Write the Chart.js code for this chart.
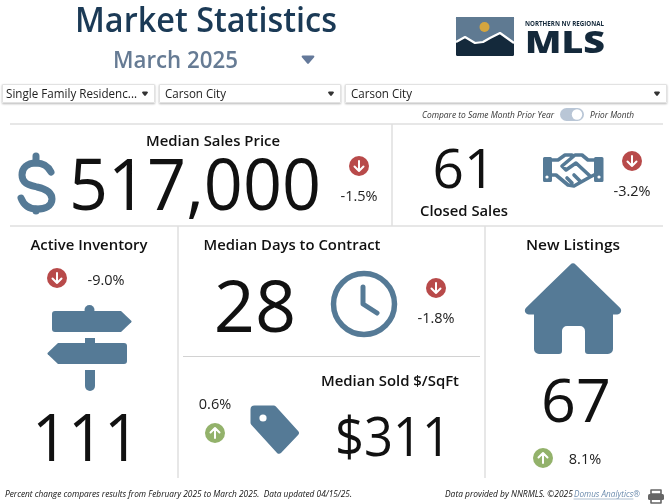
<!DOCTYPE html>
<html><head><meta charset="utf-8">
<style>html,body{margin:0;padding:0;background:#fff;overflow:hidden}canvas{display:block}</style>
<script src="https://cdn.jsdelivr.net/npm/chart.js@4/dist/chart.umd.js"></script>
</head><body><canvas id="c" width="670" height="504"></canvas>
<script>
// ---- data ----
const kpiNames = ["Median Sales Price","Closed Sales","Active Inventory","Median Days to Contract","Median Sold $/SqFt","New Listings"];
const kpiValues = ["517,000","61","111","28","$311","67"];
const kpiChanges = [-1.5,-3.2,-9.0,-1.8,0.6,8.1];
const filterLabels = ["Single Family Residenc...","Carson City","Carson City"];
const titleText = "Market Statistics";
const periodText = "March 2025";
const toggleLabels = ["Compare to Same Month Prior Year","Prior Month"];
const footerLeft = "Percent change compares results from February 2025 to March 2025.  Data updated 04/15/25.";
const footerRight = "Data provided by NNRMLS. ©2025 ";
const footerLink = "Domus Analytics®";

// ---- layout (tile order as in kpiNames) ----
const nameBox = [[213,146,134],[464,216,88],[89,250,117],[292,250,177],[390,386,138],[573,250,94]];
const valueBox = [[195,210,71,252],[464,188,55,0],[86,461,66,108],[255,332,72,0],[393,456,54,116],[576,422,61,0]];
const badgeBox = [[359,166],[632,161],[57,278],[436,288],[215,433],[543,458]];
const changeBox = [[359,201],[632,196],[106,285],[436,323],[215,409],[585,464]];
const filterBox = [[2,84,153,19,131],[159,84,182,19,61],[345,84,322,19,61]];

const steel = "#557a96", red = "#b84a4a", green = "#93b26b";

function label(ctx,s,x,y,size,o={}){
  ctx.save();
  ctx.font=`${o.style||"normal"} ${o.weight||400} ${size}px "Open Sans"`;
  ctx.fillStyle=o.color||"#111";
  ctx.textBaseline="alphabetic";
  const m=ctx.measureText(s).width;
  const k=o.w?o.w/m:1;
  ctx.translate(x,y); ctx.scale(k,1);
  ctx.textAlign=o.align||"center";
  ctx.fillText(s,0,0);
  ctx.restore();
}
function poly(ctx,pts,r){
  ctx.beginPath();
  const n=pts.length, a=pts[n-1], b=pts[0];
  ctx.moveTo((a[0]+b[0])/2,(a[1]+b[1])/2);
  for(let i=0;i<n;i++){const p=pts[i],q=pts[(i+1)%n];ctx.arcTo(p[0],p[1],(p[0]+q[0])/2,(p[1]+q[1])/2,Array.isArray(r)?r[i]:r);}
  ctx.closePath();
}
function rule(ctx,x1,y1,x2,y2,c,w){ctx.strokeStyle=c;ctx.lineWidth=w;ctx.beginPath();ctx.moveTo(x1,y1);ctx.lineTo(x2,y2);ctx.stroke();}
function tri(ctx,cx,cy,w,h,c){ctx.fillStyle=c;poly(ctx,[[cx-w/2,cy-h/2],[cx+w/2,cy-h/2],[cx,cy+h/2]],1);ctx.fill();}

function drawHeader(ctx){
  label(ctx,titleText,206,32,34,{weight:600,color:"#1b3a56",w:262});
  label(ctx,periodText,175.5,68,24,{weight:600,color:"#667b94",w:125});
  tri(ctx,308,60,15,9,"#64799a");
  // logo
  const wave=[[456,42],[465,37],[475,43],[483,42],[490,38],[500,33],[514,43]];
  ctx.fillStyle="#14293b";ctx.beginPath();ctx.roundRect(456,17,58,39,1.5);ctx.fill();
  ctx.fillStyle="#5f7a92";
  ctx.beginPath();ctx.moveTo(456,17);ctx.lineTo(514,17);ctx.lineTo(514,43);wave.slice().reverse().forEach(p=>ctx.lineTo(p[0],p[1]));ctx.closePath();ctx.fill();
  ctx.strokeStyle="#fff";ctx.lineWidth=2.2;ctx.lineJoin="round";ctx.beginPath();wave.forEach((p,i)=>i?ctx.lineTo(p[0],p[1]):ctx.moveTo(p[0],p[1]));ctx.stroke();
  ctx.fillStyle="#d4a53f";ctx.beginPath();ctx.arc(484.5,27,5,0,7);ctx.fill();
  label(ctx,"NORTHERN NV REGIONAL",525,26,6.5,{weight:700,color:"#14293b",align:"left",w:79});
  label(ctx,"MLS",525,52.5,30,{weight:800,color:"#14293b",align:"left",w:80});
}
function drawFilters(ctx){
  filterBox.forEach((b,i)=>{
    ctx.save();ctx.shadowColor="rgba(0,0,0,.28)";ctx.shadowBlur=2;ctx.shadowOffsetY=1;
    ctx.fillStyle="#fff";ctx.fillRect(b[0],b[1],b[2],b[3]);ctx.restore();
    ctx.strokeStyle="#e2e2e2";ctx.lineWidth=1;ctx.strokeRect(b[0]+.5,b[1]+.5,b[2]-1,b[3]-1);
    label(ctx,filterLabels[i],b[0]+(i?6:4),b[1]+14,12.5,{color:"#222",align:"left",w:b[4]});
    tri(ctx,b[0]+b[2]-10,b[1]+10,8,5,"#333");
  });
  label(ctx,toggleLabels[0],422,118,8.5,{style:"italic",color:"#333",align:"left",w:132});
  label(ctx,toggleLabels[1],590,118,8.5,{style:"italic",color:"#333",align:"left",w:44});
  ctx.fillStyle="#b9c6d6";ctx.beginPath();ctx.roundRect(560,108,24,13,6.5);ctx.fill();
  ctx.fillStyle="#fff";ctx.beginPath();ctx.arc(577,114.5,5.2,0,7);ctx.fill();
}
function drawRules(ctx){
  const c="#dfdfdf";
  rule(ctx,10,124,663,124,c,1.5);rule(ctx,10,226,663,226,c,1.5);
  rule(ctx,392,124,392,226,c,1.5);rule(ctx,178,226,178,478,c,1.5);rule(ctx,485,226,485,478,c,1.5);
  rule(ctx,183,356.5,480,356.5,"#d2d2d2",1);
}
function drawIcons(ctx){
  ctx.lineCap="round";ctx.lineJoin="round";
  // dollar
  ctx.strokeStyle=steel;ctx.lineWidth=7;ctx.beginPath();
  ctx.moveTo(51,172);ctx.bezierCurveTo(48,166,43,163,36,163);ctx.bezierCurveTo(27,163,22,168,22,175);
  ctx.bezierCurveTo(22,184,30,185,37,187);ctx.bezierCurveTo(46,189,52,192,52,199);
  ctx.bezierCurveTo(52,206,45,209,37,209);ctx.bezierCurveTo(30,209,24,206,21,198);ctx.stroke();
  ctx.beginPath();ctx.moveTo(36,156);ctx.lineTo(36,163);ctx.moveTo(36,209);ctx.lineTo(36,211);ctx.stroke();
  // handshake
  ctx.fillStyle=steel;ctx.beginPath();ctx.roundRect(543,157,9,25,1.5);ctx.roundRect(594,157,9.5,25,1.5);ctx.fill();
  ctx.fillStyle="#fff";ctx.beginPath();ctx.arc(547,177,1.6,0,7);ctx.arc(599,177,1.6,0,7);ctx.fill();
  ctx.strokeStyle=steel;ctx.lineWidth=3.6;ctx.beginPath();
  ctx.moveTo(552,160);ctx.lineTo(558,160);ctx.lineTo(565,155);ctx.lineTo(572,155);
  ctx.moveTo(594,160);ctx.lineTo(588,160);ctx.lineTo(582,155);ctx.lineTo(575,155);ctx.lineTo(562,166);ctx.lineTo(566,170);ctx.lineTo(576,163);ctx.lineTo(590,176);
  ctx.moveTo(552,175);ctx.lineTo(556,175);ctx.lineTo(568,185);ctx.lineTo(574,186);ctx.lineTo(590,177);ctx.lineTo(594,175);
  ctx.moveTo(567,178);ctx.lineTo(572,183);ctx.moveTo(574,175);ctx.lineTo(580,181);
  ctx.stroke();
  // signpost
  ctx.fillStyle=steel;
  ctx.beginPath();ctx.arc(89.5,310,5,0,7);ctx.fill();
  poly(ctx,[[52,311],[121,311],[132,321.5],[121,332],[52,332]],[3,1,1,1,3]);ctx.fill();
  ctx.fillRect(85,338,10,6);
  poly(ctx,[[127,343],[58,343],[47,353.5],[58,364],[127,364]],[3,1,1,1,3]);ctx.fill();
  ctx.beginPath();ctx.roundRect(85,370,10,21,[0,0,5,5]);ctx.fill();
  // clock
  ctx.strokeStyle=steel;ctx.lineWidth=5.5;ctx.beginPath();ctx.arc(364,304,30.5,0,7);ctx.stroke();
  ctx.lineWidth=5;ctx.beginPath();ctx.moveTo(363,287);ctx.lineTo(363,304);ctx.lineTo(377,313);ctx.stroke();
  // tag
  ctx.fillStyle=steel;poly(ctx,[[250.5,405.5],[275,405.5],[300,433],[279,455],[250.5,424]],[4,3,3,3,3]);ctx.fill();
  ctx.fillStyle="#fff";ctx.beginPath();ctx.arc(263,418,3.6,0,7);ctx.fill();
  // house
  ctx.fillStyle=steel;
  poly(ctx,[[573,262],[627,314.5],[613,314.5],[613,354],[585,354],[585,326],[562,326],[562,354],[534,354],[534,314.5],[519,314.5]],[4,4,0,5,3,5,5,3,5,0,4]);ctx.fill();
  // printer
  ctx.fillStyle="#666";ctx.beginPath();ctx.roundRect(648,494,16,6,1.5);ctx.fill();
  ctx.strokeStyle="#666";ctx.lineWidth=1.6;ctx.strokeRect(651,490,10,4);ctx.strokeRect(651,499,10,4);
}
function drawKpis(ctx,meta){
  kpiNames.forEach((n,i)=>label(ctx,n,nameBox[i][0],nameBox[i][1],14.5,{weight:600,color:"#111",w:nameBox[i][2]}));
  kpiValues.forEach((v,i)=>label(ctx,v,valueBox[i][0],valueBox[i][1],valueBox[i][2],{color:"#111",w:valueBox[i][3]||undefined}));
  kpiChanges.forEach((c,i)=>label(ctx,c.toFixed(1)+"%",changeBox[i][0],changeBox[i][1],14.5,{color:"#222"}));
  // arrows inside the badge points
  meta.data.forEach((p,i)=>{
    const up=kpiChanges[i]>0, d=up?-1:1;
    ctx.strokeStyle="#fff";ctx.lineWidth=2;ctx.lineCap="round";ctx.lineJoin="round";
    ctx.beginPath();ctx.moveTo(p.x,p.y-5*d);ctx.lineTo(p.x,p.y+5*d);
    ctx.moveTo(p.x-4.5,p.y+.5*d);ctx.lineTo(p.x,p.y+5*d);ctx.lineTo(p.x+4.5,p.y+.5*d);ctx.stroke();
  });
}
function drawFooter(ctx){
  label(ctx,footerLeft,5,497,9.5,{style:"italic",color:"#111",align:"left",w:347});
  label(ctx,footerRight,445,497,9.5,{style:"italic",color:"#111",align:"left",w:130});
  label(ctx,footerLink,574,497,9.5,{style:"italic",color:"#6c8cae",align:"left",w:66});
  rule(ctx,574,499,633,499,"#8aa3bd",.7);
}
const dashboard={id:"dashboard",
  beforeDatasetsDraw(ch){const c=ch.ctx;c.save();drawRules(c);c.restore();},
  afterDatasetsDraw(ch){const c=ch.ctx;c.save();drawHeader(c);drawFilters(c);drawIcons(c);drawKpis(c,ch.getDatasetMeta(0));drawFooter(c);c.restore();}
};
new Chart(document.getElementById("c"),{
  type:"scatter",
  data:{datasets:[{label:"Change",data:badgeBox.map(b=>({x:b[0],y:b[1]})),
    pointRadius:10,pointHoverRadius:10,pointBorderWidth:0,
    pointBackgroundColor:kpiChanges.map(v=>v>0?green:red)}]},
  options:{responsive:false,animation:false,events:[],layout:{padding:0,autoPadding:false},
    plugins:{legend:{display:false},tooltip:{enabled:false}},
    scales:{x:{type:"linear",display:false,min:0,max:670},y:{type:"linear",display:false,min:0,max:504,reverse:true}}},
  plugins:[dashboard]
});
</script></body></html>
